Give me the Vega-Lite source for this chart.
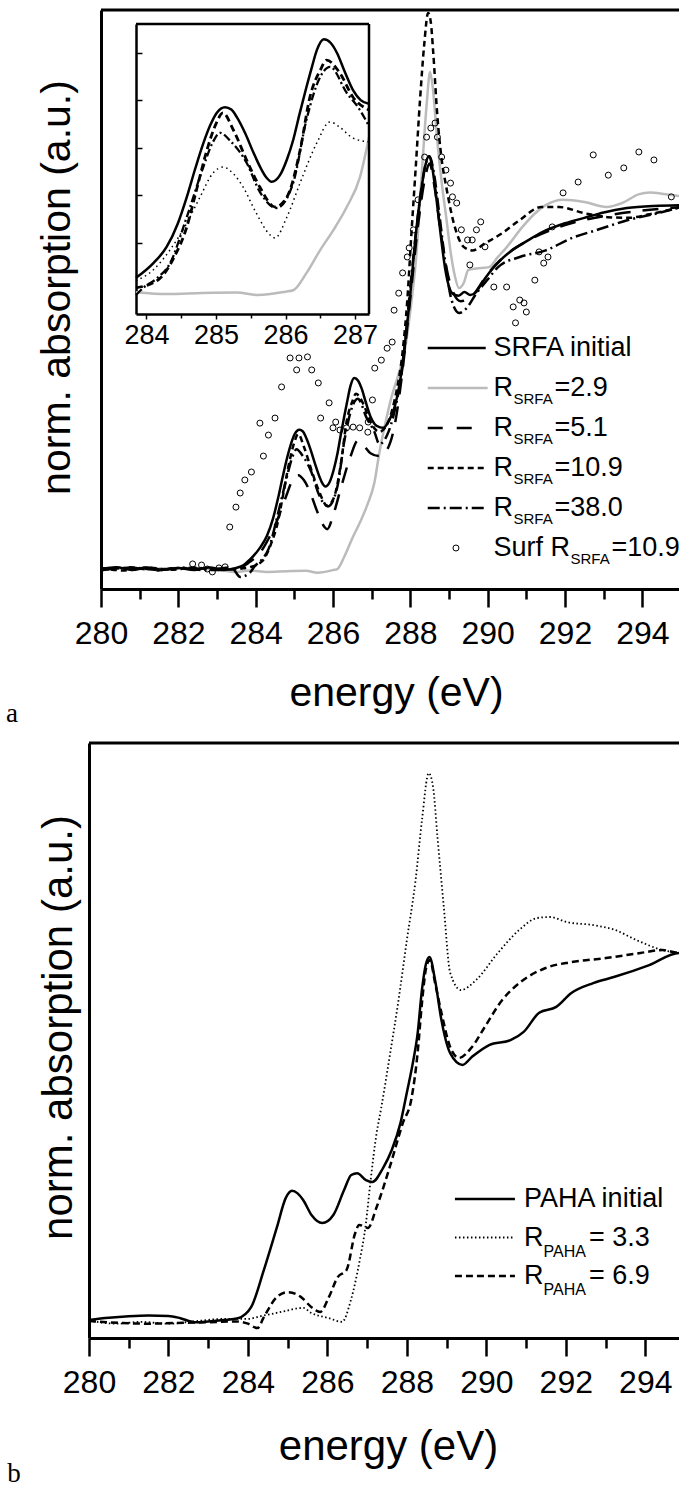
{
"$schema":"https://vega.github.io/schema/vega-lite/v6.json",
"width":679,"height":1488,"autosize":{"type":"none"},"padding":0,"background":"white",
"config":{"view":{"stroke":null},"font":"Liberation Sans","axis":{"grid":false,"domainColor":"black","tickColor":"black","labelColor":"black","titleColor":"black","labelFont":"Liberation Sans","titleFont":"Liberation Sans","titleFontWeight":"normal","labelFlush":false,"labelOverlap":false}},
"datasets":{
"srfa":[
{"s":"g29","e":280,"v":0.002},{"s":"g29","e":281,"v":0.0},{"s":"g29","e":282,"v":0.003},{"s":"g29","e":283,"v":-0.002},{"s":"g29","e":283.5,"v":-0.008},{"s":"g29","e":283.85,"v":-0.004},{"s":"g29","e":284.3,"v":-0.008},{"s":"g29","e":284.8,"v":-0.006},{"s":"g29","e":285.3,"v":-0.005},{"s":"g29","e":285.6,"v":-0.01},{"s":"g29","e":286.0,"v":-0.003},{"s":"g29","e":286.11,"v":0.0},{"s":"g29","e":286.3,"v":0.036},{"s":"g29","e":286.5,"v":0.085},{"s":"g29","e":286.69,"v":0.127},{"s":"g29","e":286.88,"v":0.175},{"s":"g29","e":287.07,"v":0.238},{"s":"g29","e":287.2,"v":0.322},{"s":"g29","e":287.35,"v":0.4},{"s":"g29","e":287.5,"v":0.47},{"s":"g29","e":287.7,"v":0.54},{"s":"g29","e":287.85,"v":0.6},{"s":"g29","e":288.03,"v":0.74},{"s":"g29","e":288.15,"v":0.86},{"s":"g29","e":288.3,"v":1.1},{"s":"g29","e":288.42,"v":1.28},{"s":"g29","e":288.51,"v":1.373},{"s":"g29","e":288.58,"v":1.33},{"s":"g29","e":288.7,"v":1.18},{"s":"g29","e":288.82,"v":1.06},{"s":"g29","e":288.93,"v":0.97},{"s":"g29","e":289.05,"v":0.87},{"s":"g29","e":289.15,"v":0.81},{"s":"g29","e":289.26,"v":0.776},{"s":"g29","e":289.38,"v":0.79},{"s":"g29","e":289.5,"v":0.826},{"s":"g29","e":289.7,"v":0.83},{"s":"g29","e":290.04,"v":0.834},{"s":"g29","e":290.25,"v":0.86},{"s":"g29","e":290.5,"v":0.89},{"s":"g29","e":290.9,"v":0.945},{"s":"g29","e":291.2,"v":0.98},{"s":"g29","e":291.5,"v":1.005},{"s":"g29","e":291.95,"v":1.02},{"s":"g29","e":292.5,"v":1.014},{"s":"g29","e":293.07,"v":1.0},{"s":"g29","e":293.5,"v":1.012},{"s":"g29","e":293.9,"v":1.035},{"s":"g29","e":294.2,"v":1.04},{"s":"g29","e":294.6,"v":1.035},{"s":"g29","e":295,"v":1.03},
{"s":"l51","e":280,"v":-0.003},{"s":"l51","e":280.7,"v":0.005},{"s":"l51","e":281.4,"v":-0.004},{"s":"l51","e":282,"v":0.003},{"s":"l51","e":282.7,"v":-0.003},{"s":"l51","e":283.3,"v":0.004},{"s":"l51","e":283.6,"v":0.005},{"s":"l51","e":283.85,"v":0.02},{"s":"l51","e":284.1,"v":0.043},{"s":"l51","e":284.34,"v":0.085},{"s":"l51","e":284.58,"v":0.141},{"s":"l51","e":284.77,"v":0.196},{"s":"l51","e":284.96,"v":0.247},{"s":"l51","e":285.1,"v":0.259},{"s":"l51","e":285.25,"v":0.245},{"s":"l51","e":285.39,"v":0.217},{"s":"l51","e":285.58,"v":0.162},{"s":"l51","e":285.78,"v":0.116},{"s":"l51","e":285.85,"v":0.11},{"s":"l51","e":286.02,"v":0.154},{"s":"l51","e":286.21,"v":0.226},{"s":"l51","e":286.45,"v":0.31},{"s":"l51","e":286.64,"v":0.354},{"s":"l51","e":286.78,"v":0.343},{"s":"l51","e":286.97,"v":0.32},{"s":"l51","e":287.2,"v":0.312},{"s":"l51","e":287.4,"v":0.33},{"s":"l51","e":287.6,"v":0.4},{"s":"l51","e":287.8,"v":0.55},{"s":"l51","e":288.0,"v":0.75},{"s":"l51","e":288.2,"v":0.95},{"s":"l51","e":288.38,"v":1.08},{"s":"l51","e":288.5,"v":1.12},{"s":"l51","e":288.62,"v":1.06},{"s":"l51","e":288.8,"v":0.92},{"s":"l51","e":289.0,"v":0.8},{"s":"l51","e":289.3,"v":0.74},{"s":"l51","e":289.6,"v":0.755},{"s":"l51","e":290.0,"v":0.815},{"s":"l51","e":290.5,"v":0.87},{"s":"l51","e":291.0,"v":0.905},{"s":"l51","e":292.0,"v":0.95},{"s":"l51","e":293.0,"v":0.975},{"s":"l51","e":294.0,"v":0.99},{"s":"l51","e":295,"v":1.0},
{"s":"s109","e":280,"v":0.003},{"s":"s109","e":280.6,"v":-0.004},{"s":"s109","e":281.2,"v":0.004},{"s":"s109","e":281.8,"v":-0.002},{"s":"s109","e":282.4,"v":0.004},{"s":"s109","e":283.0,"v":-0.003},{"s":"s109","e":283.5,"v":0.0},{"s":"s109","e":283.85,"v":0.005},{"s":"s109","e":284.17,"v":0.022},{"s":"s109","e":284.4,"v":0.07},{"s":"s109","e":284.58,"v":0.133},{"s":"s109","e":284.72,"v":0.211},{"s":"s109","e":284.87,"v":0.295},{"s":"s109","e":285.0,"v":0.35},{"s":"s109","e":285.1,"v":0.373},{"s":"s109","e":285.25,"v":0.337},{"s":"s109","e":285.44,"v":0.274},{"s":"s109","e":285.63,"v":0.217},{"s":"s109","e":285.85,"v":0.175},{"s":"s109","e":286.02,"v":0.196},{"s":"s109","e":286.21,"v":0.295},{"s":"s109","e":286.35,"v":0.406},{"s":"s109","e":286.5,"v":0.463},{"s":"s109","e":286.59,"v":0.484},{"s":"s109","e":286.78,"v":0.457},{"s":"s109","e":286.97,"v":0.406},{"s":"s109","e":287.2,"v":0.379},{"s":"s109","e":287.4,"v":0.4},{"s":"s109","e":287.6,"v":0.47},{"s":"s109","e":287.8,"v":0.6},{"s":"s109","e":287.92,"v":0.74},{"s":"s109","e":288.03,"v":0.93},{"s":"s109","e":288.14,"v":1.11},{"s":"s109","e":288.25,"v":1.295},{"s":"s109","e":288.36,"v":1.45},{"s":"s109","e":288.46,"v":1.536},{"s":"s109","e":288.53,"v":1.51},{"s":"s109","e":288.59,"v":1.43},{"s":"s109","e":288.7,"v":1.25},{"s":"s109","e":288.8,"v":1.14},{"s":"s109","e":288.93,"v":1.055},{"s":"s109","e":289.15,"v":0.945},{"s":"s109","e":289.38,"v":0.89},{"s":"s109","e":289.6,"v":0.88},{"s":"s109","e":289.94,"v":0.9},{"s":"s109","e":290.38,"v":0.928},{"s":"s109","e":290.83,"v":0.964},{"s":"s109","e":291.39,"v":1.0},{"s":"s109","e":291.84,"v":1.0},{"s":"s109","e":292.5,"v":0.983},{"s":"s109","e":293.1,"v":0.972},{"s":"s109","e":293.63,"v":0.97},{"s":"s109","e":294.19,"v":0.98},{"s":"s109","e":295,"v":1.0},
{"s":"d380","e":280,"v":-0.004},{"s":"d380","e":280.8,"v":0.004},{"s":"d380","e":281.5,"v":-0.003},{"s":"d380","e":282.2,"v":0.004},{"s":"d380","e":282.9,"v":-0.003},{"s":"d380","e":283.4,"v":0.0},{"s":"d380","e":283.6,"v":-0.022},{"s":"d380","e":283.85,"v":-0.01},{"s":"d380","e":283.97,"v":0.007},{"s":"d380","e":284.15,"v":0.025},{"s":"d380","e":284.34,"v":0.057},{"s":"d380","e":284.58,"v":0.154},{"s":"d380","e":284.82,"v":0.26},{"s":"d380","e":284.95,"v":0.31},{"s":"d380","e":285.06,"v":0.331},{"s":"d380","e":285.2,"v":0.315},{"s":"d380","e":285.44,"v":0.268},{"s":"d380","e":285.63,"v":0.207},{"s":"d380","e":285.87,"v":0.173},{"s":"d380","e":286.11,"v":0.226},{"s":"d380","e":286.3,"v":0.358},{"s":"d380","e":286.5,"v":0.449},{"s":"d380","e":286.64,"v":0.47},{"s":"d380","e":286.88,"v":0.415},{"s":"d380","e":287.07,"v":0.379},{"s":"d380","e":287.2,"v":0.345},{"s":"d380","e":287.4,"v":0.37},{"s":"d380","e":287.6,"v":0.44},{"s":"d380","e":287.8,"v":0.56},{"s":"d380","e":288.0,"v":0.78},{"s":"d380","e":288.2,"v":0.98},{"s":"d380","e":288.4,"v":1.12},{"s":"d380","e":288.5,"v":1.14},{"s":"d380","e":288.6,"v":1.1},{"s":"d380","e":288.75,"v":0.98},{"s":"d380","e":288.9,"v":0.85},{"s":"d380","e":289.05,"v":0.75},{"s":"d380","e":289.26,"v":0.707},{"s":"d380","e":289.45,"v":0.72},{"s":"d380","e":289.7,"v":0.76},{"s":"d380","e":290.0,"v":0.8},{"s":"d380","e":290.27,"v":0.834},{"s":"d380","e":290.83,"v":0.862},{"s":"d380","e":291.5,"v":0.88},{"s":"d380","e":292.17,"v":0.914},{"s":"d380","e":292.84,"v":0.937},{"s":"d380","e":293.63,"v":0.964},{"s":"d380","e":294.4,"v":0.983},{"s":"d380","e":295,"v":1.0},
{"s":"init","e":280,"v":0.0},{"s":"init","e":280.4,"v":0.005},{"s":"init","e":280.8,"v":-0.003},{"s":"init","e":281.2,"v":0.004},{"s":"init","e":281.6,"v":-0.002},{"s":"init","e":282,"v":0.003},{"s":"init","e":282.4,"v":-0.003},{"s":"init","e":282.8,"v":0.004},{"s":"init","e":283.2,"v":-0.002},{"s":"init","e":283.5,"v":0.003},{"s":"init","e":283.68,"v":0.01},{"s":"init","e":283.85,"v":0.026},{"s":"init","e":284.1,"v":0.057},{"s":"init","e":284.29,"v":0.091},{"s":"init","e":284.45,"v":0.14},{"s":"init","e":284.58,"v":0.196},{"s":"init","e":284.7,"v":0.255},{"s":"init","e":284.82,"v":0.31},{"s":"init","e":284.92,"v":0.348},{"s":"init","e":285.01,"v":0.373},{"s":"init","e":285.13,"v":0.385},{"s":"init","e":285.22,"v":0.38},{"s":"init","e":285.3,"v":0.364},{"s":"init","e":285.42,"v":0.33},{"s":"init","e":285.54,"v":0.289},{"s":"init","e":285.65,"v":0.255},{"s":"init","e":285.73,"v":0.236},{"s":"init","e":285.8,"v":0.228},{"s":"init","e":285.92,"v":0.242},{"s":"init","e":286.02,"v":0.275},{"s":"init","e":286.11,"v":0.316},{"s":"init","e":286.2,"v":0.37},{"s":"init","e":286.3,"v":0.427},{"s":"init","e":286.38,"v":0.47},{"s":"init","e":286.45,"v":0.505},{"s":"init","e":286.55,"v":0.528},{"s":"init","e":286.65,"v":0.52},{"s":"init","e":286.74,"v":0.499},{"s":"init","e":286.85,"v":0.46},{"s":"init","e":286.97,"v":0.421},{"s":"init","e":287.08,"v":0.4},{"s":"init","e":287.2,"v":0.392},{"s":"init","e":287.3,"v":0.39},{"s":"init","e":287.45,"v":0.41},{"s":"init","e":287.6,"v":0.45},{"s":"init","e":287.75,"v":0.53},{"s":"init","e":287.9,"v":0.66},{"s":"init","e":288.0,"v":0.76},{"s":"init","e":288.1,"v":0.88},{"s":"init","e":288.2,"v":0.98},{"s":"init","e":288.3,"v":1.06},{"s":"init","e":288.4,"v":1.12},{"s":"init","e":288.47,"v":1.14},{"s":"init","e":288.55,"v":1.12},{"s":"init","e":288.62,"v":1.07},{"s":"init","e":288.7,"v":1.0},{"s":"init","e":288.8,"v":0.91},{"s":"init","e":288.9,"v":0.83},{"s":"init","e":289.0,"v":0.78},{"s":"init","e":289.1,"v":0.76},{"s":"init","e":289.25,"v":0.755},{"s":"init","e":289.4,"v":0.765},{"s":"init","e":289.55,"v":0.757},{"s":"init","e":289.7,"v":0.765},{"s":"init","e":289.85,"v":0.79},{"s":"init","e":290.05,"v":0.82},{"s":"init","e":290.3,"v":0.85},{"s":"init","e":290.6,"v":0.878},{"s":"init","e":291.0,"v":0.905},{"s":"init","e":291.4,"v":0.93},{"s":"init","e":292.0,"v":0.955},{"s":"init","e":292.5,"v":0.97},{"s":"init","e":293.0,"v":0.985},{"s":"init","e":293.6,"v":0.997},{"s":"init","e":294.3,"v":1.003},{"s":"init","e":295,"v":1.005}
],
"surf":[
{"e":282.37,"v":0.014},{"e":282.6,"v":0.011},{"e":282.75,"v":0.0},{"e":282.88,"v":-0.008},{"e":283.05,"v":0.003},{"e":283.21,"v":0.006},{"e":283.33,"v":0.116},{"e":283.49,"v":0.171},{"e":283.6,"v":0.21},{"e":283.72,"v":0.246},{"e":283.89,"v":0.268},{"e":284.11,"v":0.403},{"e":284.2,"v":0.312},{"e":284.33,"v":0.37},{"e":284.5,"v":0.417},{"e":284.67,"v":0.503},{"e":284.89,"v":0.583},{"e":285.06,"v":0.55},{"e":285.12,"v":0.583},{"e":285.34,"v":0.586},{"e":285.45,"v":0.55},{"e":285.62,"v":0.514},{"e":285.68,"v":0.417},{"e":285.9,"v":0.459},{"e":286.0,"v":0.39},{"e":286.07,"v":0.406},{"e":286.18,"v":0.384},{"e":286.35,"v":0.39},{"e":286.52,"v":0.392},{"e":286.69,"v":0.39},{"e":286.9,"v":0.378},{"e":286.91,"v":0.406},{"e":287.02,"v":0.467},{"e":287.08,"v":0.555},{"e":287.25,"v":0.577},{"e":287.4,"v":0.61},{"e":287.53,"v":0.627},{"e":287.58,"v":0.715},{"e":287.7,"v":0.762},{"e":287.8,"v":0.818},{"e":287.92,"v":0.862},{"e":287.97,"v":0.887},{"e":288.08,"v":0.937},{"e":288.2,"v":1.02},{"e":288.37,"v":1.138},{"e":288.42,"v":1.193},{"e":288.53,"v":1.218},{"e":288.64,"v":1.232},{"e":288.7,"v":1.193},{"e":288.81,"v":1.138},{"e":288.92,"v":1.102},{"e":289.04,"v":1.066},{"e":289.09,"v":1.028},{"e":289.2,"v":1.011},{"e":289.32,"v":0.937},{"e":289.48,"v":0.909},{"e":289.54,"v":0.84},{"e":289.6,"v":0.909},{"e":289.71,"v":0.937},{"e":289.82,"v":0.959},{"e":289.93,"v":0.89},{"e":290.16,"v":0.779},{"e":290.49,"v":0.779},{"e":290.66,"v":0.724},{"e":290.72,"v":0.68},{"e":290.83,"v":0.743},{"e":290.94,"v":0.735},{"e":291.0,"v":0.71},{"e":291.22,"v":0.798},{"e":291.33,"v":0.876},{"e":291.45,"v":0.845},{"e":291.56,"v":0.862},{"e":291.67,"v":0.945},{"e":291.95,"v":1.039},{"e":292.34,"v":1.069},{"e":292.73,"v":1.144},{"e":293.12,"v":1.088},{"e":293.52,"v":1.108},{"e":293.91,"v":1.152},{"e":294.3,"v":1.13},{"e":294.75,"v":1.028}
],
"paha":[
{"s":"p33","e":280,"v":-0.002},{"s":"p33","e":280.7,"v":-0.01},{"s":"p33","e":281.3,"v":-0.005},{"s":"p33","e":282,"v":-0.01},{"s":"p33","e":282.7,"v":-0.003},{"s":"p33","e":283.4,"v":0.003},{"s":"p33","e":284.0,"v":0.003},{"s":"p33","e":284.3,"v":0.01},{"s":"p33","e":284.84,"v":0.022},{"s":"p33","e":285.39,"v":0.033},{"s":"p33","e":285.6,"v":0.019},{"s":"p33","e":286.04,"v":0.005},{"s":"p33","e":286.37,"v":-0.005},{"s":"p33","e":286.59,"v":0.054},{"s":"p33","e":286.8,"v":0.155},{"s":"p33","e":286.97,"v":0.264},{"s":"p33","e":287.08,"v":0.373},{"s":"p33","e":287.24,"v":0.51},{"s":"p33","e":287.35,"v":0.575},{"s":"p33","e":287.57,"v":0.72},{"s":"p33","e":287.78,"v":0.864},{"s":"p33","e":288.0,"v":1.035},{"s":"p33","e":288.22,"v":1.199},{"s":"p33","e":288.38,"v":1.362},{"s":"p33","e":288.55,"v":1.49},{"s":"p33","e":288.66,"v":1.452},{"s":"p33","e":288.77,"v":1.316},{"s":"p33","e":288.93,"v":1.125},{"s":"p33","e":289.09,"v":0.946},{"s":"p33","e":289.36,"v":0.899},{"s":"p33","e":289.74,"v":0.926},{"s":"p33","e":290.29,"v":1.0},{"s":"p33","e":290.83,"v":1.063},{"s":"p33","e":291.27,"v":1.095},{"s":"p33","e":291.6,"v":1.098},{"s":"p33","e":292.03,"v":1.084},{"s":"p33","e":292.69,"v":1.076},{"s":"p33","e":293.23,"v":1.063},{"s":"p33","e":293.78,"v":1.035},{"s":"p33","e":294.43,"v":1.008},{"s":"p33","e":294.85,"v":1.0},{"s":"p33","e":295,"v":0.998},
{"s":"p69","e":280,"v":-0.003},{"s":"p69","e":280.8,"v":-0.008},{"s":"p69","e":281.5,"v":-0.01},{"s":"p69","e":282.2,"v":-0.008},{"s":"p69","e":283,"v":-0.006},{"s":"p69","e":283.7,"v":-0.004},{"s":"p69","e":284.0,"v":-0.01},{"s":"p69","e":284.24,"v":-0.022},{"s":"p69","e":284.4,"v":0.008},{"s":"p69","e":284.73,"v":0.063},{"s":"p69","e":285.0,"v":0.076},{"s":"p69","e":285.33,"v":0.063},{"s":"p69","e":285.6,"v":0.035},{"s":"p69","e":285.82,"v":0.022},{"s":"p69","e":286.04,"v":0.063},{"s":"p69","e":286.26,"v":0.117},{"s":"p69","e":286.48,"v":0.136},{"s":"p69","e":286.7,"v":0.237},{"s":"p69","e":286.8,"v":0.259},{"s":"p69","e":287.02,"v":0.251},{"s":"p69","e":287.24,"v":0.308},{"s":"p69","e":287.57,"v":0.417},{"s":"p69","e":287.9,"v":0.537},{"s":"p69","e":288.11,"v":0.6},{"s":"p69","e":288.27,"v":0.727},{"s":"p69","e":288.38,"v":0.864},{"s":"p69","e":288.49,"v":0.962},{"s":"p69","e":288.58,"v":0.981},{"s":"p69","e":288.71,"v":0.918},{"s":"p69","e":288.87,"v":0.837},{"s":"p69","e":289.09,"v":0.744},{"s":"p69","e":289.31,"v":0.714},{"s":"p69","e":289.64,"v":0.744},{"s":"p69","e":289.96,"v":0.798},{"s":"p69","e":290.4,"v":0.872},{"s":"p69","e":290.83,"v":0.918},{"s":"p69","e":291.49,"v":0.959},{"s":"p69","e":292.14,"v":0.975},{"s":"p69","e":293.01,"v":0.986},{"s":"p69","e":293.88,"v":1.0},{"s":"p69","e":294.43,"v":1.008},{"s":"p69","e":294.85,"v":1.0},{"s":"p69","e":295,"v":1.0},
{"s":"pi","e":280,"v":0.0},{"s":"pi","e":280.5,"v":0.006},{"s":"pi","e":281,"v":0.01},{"s":"pi","e":281.5,"v":0.012},{"s":"pi","e":282,"v":0.011},{"s":"pi","e":282.3,"v":0.005},{"s":"pi","e":282.66,"v":-0.006},{"s":"pi","e":283,"v":-0.004},{"s":"pi","e":283.4,"v":0.0},{"s":"pi","e":283.75,"v":0.005},{"s":"pi","e":284.08,"v":0.035},{"s":"pi","e":284.4,"v":0.136},{"s":"pi","e":284.73,"v":0.253},{"s":"pi","e":284.95,"v":0.332},{"s":"pi","e":285.11,"v":0.352},{"s":"pi","e":285.25,"v":0.345},{"s":"pi","e":285.39,"v":0.327},{"s":"pi","e":285.6,"v":0.286},{"s":"pi","e":285.87,"v":0.264},{"s":"pi","e":286.15,"v":0.286},{"s":"pi","e":286.42,"v":0.354},{"s":"pi","e":286.6,"v":0.395},{"s":"pi","e":286.75,"v":0.4},{"s":"pi","e":286.97,"v":0.381},{"s":"pi","e":287.13,"v":0.376},{"s":"pi","e":287.4,"v":0.414},{"s":"pi","e":287.62,"v":0.463},{"s":"pi","e":287.84,"v":0.537},{"s":"pi","e":288.0,"v":0.62},{"s":"pi","e":288.15,"v":0.7},{"s":"pi","e":288.27,"v":0.78},{"s":"pi","e":288.38,"v":0.9},{"s":"pi","e":288.48,"v":0.97},{"s":"pi","e":288.57,"v":0.989},{"s":"pi","e":288.71,"v":0.926},{"s":"pi","e":288.87,"v":0.817},{"s":"pi","e":289.09,"v":0.727},{"s":"pi","e":289.4,"v":0.695},{"s":"pi","e":289.64,"v":0.717},{"s":"pi","e":290.07,"v":0.749},{"s":"pi","e":290.62,"v":0.763},{"s":"pi","e":290.94,"v":0.785},{"s":"pi","e":291.33,"v":0.837},{"s":"pi","e":291.76,"v":0.853},{"s":"pi","e":292.14,"v":0.891},{"s":"pi","e":292.69,"v":0.918},{"s":"pi","e":293.23,"v":0.935},{"s":"pi","e":294.1,"v":0.967},{"s":"pi","e":294.85,"v":1.0},{"s":"pi","e":295,"v":1.0}
],
"legA":[
{"s":"init","lead":"SRFA initial","sub":"","tail":""},
{"s":"g29","lead":"R","sub":"SRFA","tail":"=2.9"},
{"s":"l51","lead":"R","sub":"SRFA","tail":"=5.1"},
{"s":"s109","lead":"R","sub":"SRFA","tail":"=10.9"},
{"s":"d380","lead":"R","sub":"SRFA","tail":"=38.0"},
{"s":"surf","lead":"Surf R","sub":"SRFA","tail":"=10.9"}
],
"legB":[
{"s":"pi","lead":"PAHA initial","sub":"","tail":""},
{"s":"p33","lead":"R","sub":"PAHA","tail":"= 3.3"},
{"s":"p69","lead":"R","sub":"PAHA","tail":"= 6.9"}
]
},
"resolve":{"scale":{"x":"independent","y":"independent"},"axis":{"x":"independent","y":"independent"}},
"layer":[
{
"layer":[
{"data":{"name":"srfa"},"transform":[{"filter":"datum.s==='g29'"}],"mark":{"type":"line","color":"#bbbbbb","strokeWidth":2.5,"interpolate":"monotone"},
"encoding":{
"x":{"field":"e","type":"quantitative","scale":{"domain":[280,295],"range":[101,681],"nice":false,"zero":false},
"axis":{"orient":"bottom","offset":-899,"values":[280,282,284,286,288,290,292,294],"format":"d","tickSize":18,"tickWidth":2.5,"domainWidth":3,"labelFontSize":32,"labelPadding":11,"title":"energy (eV)","titleFontSize":41,"titleX":396,"titleY":116,"titleBaseline":"alphabetic","titleAlign":"center"}},
"y":{"field":"v","type":"quantitative","scale":{"domain":[-0.0552,1.5442],"range":[589,10],"nice":false,"zero":false},
"axis":{"orient":"left","offset":-101,"ticks":false,"labels":false,"domainWidth":3,"title":"norm. absorption (a.u.)","titleFontSize":41,"titleX":-32,"titleY":287,"titleBaseline":"alphabetic","titleAlign":"center","titleAngle":270}}}},
{"data":{"name":"srfa"},"transform":[{"filter":"datum.s==='l51'"}],"mark":{"type":"line","color":"black","strokeWidth":2.5,"strokeDash":[16,12],"interpolate":"monotone"},"encoding":{"x":{"field":"e","type":"quantitative"},"y":{"field":"v","type":"quantitative"}}},
{"data":{"name":"srfa"},"transform":[{"filter":"datum.s==='s109'"}],"mark":{"type":"line","color":"black","strokeWidth":2.5,"strokeDash":[6,4],"interpolate":"monotone"},"encoding":{"x":{"field":"e","type":"quantitative"},"y":{"field":"v","type":"quantitative"}}},
{"data":{"name":"srfa"},"transform":[{"filter":"datum.s==='d380'"}],"mark":{"type":"line","color":"black","strokeWidth":2.5,"strokeDash":[12,4,2,4],"interpolate":"monotone"},"encoding":{"x":{"field":"e","type":"quantitative"},"y":{"field":"v","type":"quantitative"}}},
{"data":{"name":"srfa"},"transform":[{"filter":"datum.s==='init'"}],"mark":{"type":"line","color":"black","strokeWidth":2.5,"interpolate":"monotone"},"encoding":{"x":{"field":"e","type":"quantitative"},"y":{"field":"v","type":"quantitative"}}},
{"data":{"name":"surf"},"mark":{"type":"point","shape":"circle","filled":false,"color":"black","strokeWidth":1,"size":36,"opacity":1},"encoding":{"x":{"field":"e","type":"quantitative"},"y":{"field":"v","type":"quantitative"}}}
]
},
{
"layer":[
{"data":{"values":[{"t":"frame"}]},"mark":{"type":"rule","color":"black","strokeWidth":3},"encoding":{"x":{"datum":280,"type":"quantitative","scale":{"domain":[280,295],"range":[101,681],"nice":false,"zero":false},"axis":null},"x2":{"datum":295},"y":{"datum":1.5442,"type":"quantitative","scale":{"domain":[-0.0552,1.5442],"range":[589,10],"nice":false,"zero":false},"axis":null}}},
{"data":{"values":[{"t":"a"}]},"mark":{"type":"text","font":"Liberation Serif","fontSize":27,"align":"center","baseline":"alphabetic","color":"black"},"encoding":{"x":{"datum":277.7,"type":"quantitative","axis":null},"y":{"datum":-0.4227,"type":"quantitative","axis":null},"text":{"field":"t"}}}
]
},
{
"data":{"values":[{"e":281}]},
"mark":{"type":"rule","opacity":0},
"encoding":{"x":{"field":"e","type":"quantitative","scale":{"domain":[280,295],"range":[101,681],"nice":false,"zero":false},
"axis":{"orient":"bottom","offset":-899,"values":[281,283,285,287,289,291,293],"tickSize":10,"tickWidth":2.5,"labels":false,"domain":false,"title":null}}}
},
{
"layer":[
{"data":{"name":"srfa"},"transform":[{"filter":"datum.s==='g29' && datum.e >= 283.85 && datum.e <= 287.2"}],"mark":{"type":"line","color":"#bbbbbb","strokeWidth":2.5,"interpolate":"monotone"},
"encoding":{
"x":{"field":"e","type":"quantitative","scale":{"domain":[283.85,287.2],"range":[136,369],"nice":false,"zero":false},
"axis":{"orient":"bottom","offset":-1174,"values":[284,285,286,287],"format":"d","tickSize":5,"tickWidth":1.5,"domainWidth":2.5,"labelFont":"Liberation Sans Narrow, Liberation Sans","labelFontSize":27,"labelPadding":3,"title":null}},
"y":{"field":"v","type":"quantitative","scale":{"domain":[-0.05,0.56],"range":[314,24],"nice":false,"zero":false},
"axis":{"orient":"left","offset":-136,"values":[0.1,0.2,0.3,0.4,0.5],"tickSize":-6,"tickWidth":1.5,"labels":false,"domainWidth":2.5,"title":null}}}},
{"data":{"name":"srfa"},"transform":[{"filter":"datum.s==='l51' && datum.e >= 283.85 && datum.e <= 287.2"}],"mark":{"type":"line","color":"black","strokeWidth":1.5,"strokeDash":[1.5,3.5],"interpolate":"monotone"},"encoding":{"x":{"field":"e","type":"quantitative"},"y":{"field":"v","type":"quantitative"}}},
{"data":{"name":"srfa"},"transform":[{"filter":"datum.s==='s109' && datum.e >= 283.85 && datum.e <= 287.2"}],"mark":{"type":"line","color":"black","strokeWidth":2.8,"strokeDash":[7,4],"interpolate":"monotone"},"encoding":{"x":{"field":"e","type":"quantitative"},"y":{"field":"v","type":"quantitative"}}},
{"data":{"name":"srfa"},"transform":[{"filter":"datum.s==='d380' && datum.e >= 283.85 && datum.e <= 287.2"}],"mark":{"type":"line","color":"black","strokeWidth":2.3,"strokeDash":[8,3,2,3],"interpolate":"monotone"},"encoding":{"x":{"field":"e","type":"quantitative"},"y":{"field":"v","type":"quantitative"}}},
{"data":{"name":"srfa"},"transform":[{"filter":"datum.s==='init' && datum.e >= 283.85 && datum.e <= 287.2"}],"mark":{"type":"line","color":"black","strokeWidth":2.5,"interpolate":"monotone"},"encoding":{"x":{"field":"e","type":"quantitative"},"y":{"field":"v","type":"quantitative"}}}
]
},
{
"layer":[
{"data":{"values":[{"t":"top"}]},"mark":{"type":"rule","color":"black","strokeWidth":2.5},"encoding":{"x":{"datum":283.85,"type":"quantitative","scale":{"domain":[283.85,287.2],"range":[136,369],"nice":false,"zero":false},"axis":null},"x2":{"datum":287.2},"y":{"datum":0.56,"type":"quantitative","scale":{"domain":[-0.05,0.56],"range":[314,24],"nice":false,"zero":false},"axis":null}}},
{"data":{"values":[{"t":"right"}]},"mark":{"type":"rule","color":"black","strokeWidth":2.5},"encoding":{"x":{"datum":287.2,"type":"quantitative","axis":null},"y":{"datum":-0.05,"type":"quantitative","axis":null},"y2":{"datum":0.56}}}
]
},
{
"data":{"values":[{"e":284.5}]},
"mark":{"type":"rule","opacity":0},
"encoding":{"x":{"field":"e","type":"quantitative","scale":{"domain":[283.85,287.2],"range":[136,369],"nice":false,"zero":false},
"axis":{"orient":"bottom","offset":-1174,"values":[284.5,285.5,286.5],"tickSize":4,"tickWidth":1.5,"labels":false,"domain":false,"title":null}}}
},
{
"data":{"name":"legA"},
"encoding":{"y":{"field":"s","type":"nominal","scale":{"type":"point","domain":["init","g29","l51","s109","d380","surf"],"range":[348,548],"padding":0},"axis":null}},
"layer":[
{"transform":[{"filter":"datum.s==='init'"}],"mark":{"type":"rule","color":"black","strokeWidth":2.5},"encoding":{"x":{"datum":288.45,"type":"quantitative","scale":{"domain":[280,295],"range":[101,681],"nice":false,"zero":false},"axis":null},"x2":{"datum":289.95}}},
{"transform":[{"filter":"datum.s==='g29'"}],"mark":{"type":"rule","color":"#bbbbbb","strokeWidth":2.5},"encoding":{"x":{"datum":288.45},"x2":{"datum":290.0}}},
{"transform":[{"filter":"datum.s==='l51'"}],"mark":{"type":"rule","color":"black","strokeWidth":2.5,"strokeDash":[15,14]},"encoding":{"x":{"datum":288.45},"x2":{"datum":289.95}}},
{"transform":[{"filter":"datum.s==='s109'"}],"mark":{"type":"rule","color":"black","strokeWidth":2.5,"strokeDash":[6,4]},"encoding":{"x":{"datum":288.45},"x2":{"datum":290.0}}},
{"transform":[{"filter":"datum.s==='d380'"}],"mark":{"type":"rule","color":"black","strokeWidth":2.5,"strokeDash":[12,4,2,4]},"encoding":{"x":{"datum":288.45},"x2":{"datum":289.95}}},
{"transform":[{"filter":"datum.s==='surf'"}],"mark":{"type":"point","shape":"circle","filled":false,"color":"black","strokeWidth":1,"size":36,"opacity":1},"encoding":{"x":{"datum":289.18}}},
{"mark":{"type":"text","align":"left","baseline":"middle","fontSize":27,"color":"black"},"encoding":{"x":{"datum":290.15},"text":{"field":"lead"}}},
{"transform":[{"filter":"datum.s!=='surf' && datum.s!=='init'"}],"mark":{"type":"text","align":"left","baseline":"middle","fontSize":15,"dx":20,"dy":11,"color":"black"},"encoding":{"x":{"datum":290.15},"text":{"field":"sub"}}},
{"transform":[{"filter":"datum.s!=='surf' && datum.s!=='init'"}],"mark":{"type":"text","align":"left","baseline":"middle","fontSize":27,"dx":61,"color":"black"},"encoding":{"x":{"datum":290.15},"text":{"field":"tail"}}},
{"transform":[{"filter":"datum.s==='surf'"}],"mark":{"type":"text","align":"left","baseline":"middle","fontSize":15,"dx":77,"dy":11,"color":"black"},"encoding":{"x":{"datum":290.15},"text":{"field":"sub"}}},
{"transform":[{"filter":"datum.s==='surf'"}],"mark":{"type":"text","align":"left","baseline":"middle","fontSize":27,"dx":118,"color":"black"},"encoding":{"x":{"datum":290.15},"text":{"field":"tail"}}}
]
},
{
"layer":[
{"data":{"name":"paha"},"transform":[{"filter":"datum.s==='p33'"}],"mark":{"type":"line","color":"black","strokeWidth":1.8,"strokeDash":[1.5,2.5],"interpolate":"monotone"},
"encoding":{
"x":{"field":"e","type":"quantitative","scale":{"domain":[280,295],"range":[89,685],"nice":false,"zero":false},
"axis":{"orient":"bottom","offset":-150,"values":[280,282,284,286,288,290,292,294],"format":"d","tickSize":18,"tickWidth":2.5,"domainWidth":3,"labelFontSize":32,"labelPadding":11,"title":"energy (eV)","titleFontSize":42,"titleX":388,"titleY":121,"titleBaseline":"alphabetic","titleAlign":"center"}},
"y":{"field":"v","type":"quantitative","scale":{"domain":[-0.049,1.572],"range":[1338,743],"nice":false,"zero":false},
"axis":{"orient":"left","offset":-89,"ticks":false,"labels":false,"domainWidth":3,"title":"norm. absorption (a.u.)","titleFontSize":42,"titleX":-18,"titleY":1027,"titleBaseline":"alphabetic","titleAlign":"center","titleAngle":270}}}},
{"data":{"name":"paha"},"transform":[{"filter":"datum.s==='p69'"}],"mark":{"type":"line","color":"black","strokeWidth":2.5,"strokeDash":[7,4],"interpolate":"monotone"},"encoding":{"x":{"field":"e","type":"quantitative"},"y":{"field":"v","type":"quantitative"}}},
{"data":{"name":"paha"},"transform":[{"filter":"datum.s==='pi'"}],"mark":{"type":"line","color":"black","strokeWidth":2.5,"interpolate":"monotone"},"encoding":{"x":{"field":"e","type":"quantitative"},"y":{"field":"v","type":"quantitative"}}}
]
},
{
"layer":[
{"data":{"values":[{"t":"frame"}]},"mark":{"type":"rule","color":"black","strokeWidth":3},"encoding":{"x":{"datum":280,"type":"quantitative","scale":{"domain":[280,295],"range":[89,685],"nice":false,"zero":false},"axis":null},"x2":{"datum":295},"y":{"datum":1.572,"type":"quantitative","scale":{"domain":[-0.049,1.572],"range":[1338,743],"nice":false,"zero":false},"axis":null}}},
{"data":{"values":[{"t":"b"}]},"mark":{"type":"text","font":"Liberation Serif","fontSize":27,"align":"center","baseline":"alphabetic","color":"black"},"encoding":{"x":{"datum":278.11,"type":"quantitative","axis":null},"y":{"datum":-0.441,"type":"quantitative","axis":null},"text":{"field":"t"}}}
]
},
{
"data":{"values":[{"e":281}]},
"mark":{"type":"rule","opacity":0},
"encoding":{"x":{"field":"e","type":"quantitative","scale":{"domain":[280,295],"range":[89,685],"nice":false,"zero":false},
"axis":{"orient":"bottom","offset":-150,"values":[281,283,285,287,289,291,293],"tickSize":10,"tickWidth":2.5,"labels":false,"domain":false,"title":null}}}
},
{
"data":{"name":"legB"},
"encoding":{"y":{"field":"s","type":"nominal","scale":{"type":"point","domain":["pi","p33","p69"],"range":[1199,1276],"padding":0},"axis":null}},
"layer":[
{"transform":[{"filter":"datum.s==='pi'"}],"mark":{"type":"rule","color":"black","strokeWidth":2.5},"encoding":{"x":{"datum":289.21,"type":"quantitative","scale":{"domain":[280,295],"range":[89,685],"nice":false,"zero":false},"axis":null},"x2":{"datum":290.72}}},
{"transform":[{"filter":"datum.s==='p33'"}],"mark":{"type":"rule","color":"black","strokeWidth":1.8,"strokeDash":[1.5,2.5]},"encoding":{"x":{"datum":289.21},"x2":{"datum":290.72}}},
{"transform":[{"filter":"datum.s==='p69'"}],"mark":{"type":"rule","color":"black","strokeWidth":2.5,"strokeDash":[7,4]},"encoding":{"x":{"datum":289.21},"x2":{"datum":290.72}}},
{"mark":{"type":"text","align":"left","baseline":"middle","fontSize":27,"color":"black"},"encoding":{"x":{"datum":290.95},"text":{"field":"lead"}}},
{"transform":[{"filter":"datum.s!=='pi'"}],"mark":{"type":"text","align":"left","baseline":"middle","fontSize":16,"dx":19.5,"dy":14,"color":"black"},"encoding":{"x":{"datum":290.95},"text":{"field":"sub"}}},
{"transform":[{"filter":"datum.s!=='pi'"}],"mark":{"type":"text","align":"left","baseline":"middle","fontSize":27,"dx":65,"color":"black"},"encoding":{"x":{"datum":290.95},"text":{"field":"tail"}}}
]
}
]
}
